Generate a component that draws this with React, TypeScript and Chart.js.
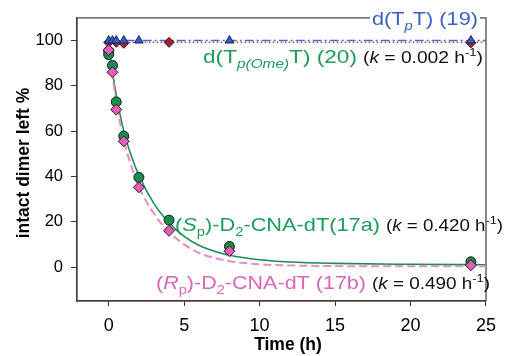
import React, { useEffect, useRef } from 'react';
import { Chart, registerables } from 'chart.js';

Chart.register(...registerables);

const FONT = '"Liberation Sans", Arial, Helvetica, sans-serif';

// ticks
const xTicks = [0, 5, 10, 15, 20, 25];
const yTicks = [0, 20, 40, 60, 80, 100];

// axis titles
const xTitle = 'Time (h)';
const yTitle = 'intact dimer left %';

// d(TpT) (19)
const tpTimes = [0, 0.25, 0.5, 1, 2, 8, 24];
const tpValues = [100, 100, 100, 100, 100, 100, 100];
const tpLineTimes = [0, 25];
const tpLineValues = [100, 100];

// d(Tp(Ome)T) (20)
const omeTimes = [0, 0.5, 1, 4, 24];
const omeValues = [99.2, 99.2, 98.8, 99.2, 99.0];
const omeLineTimes = [0, 25];
const omeLineValues = [99.3, 99.3];

// (Sp)-D2-CNA-dT (17a)
const spTimes = [0, 0, 0.25, 0.5, 1, 2, 4, 8, 24];
const spValues = [95.3, 93.8, 89, 72.9, 57.8, 39.6, 20.7, 9.1, 2.3];

// (Rp)-D2-CNA-dT (17b)
const rpTimes = [0, 0.25, 0.5, 1, 2, 4, 8, 24];
const rpValues = [95.8, 86, 69.5, 55.5, 35.2, 16, 7, 0.8];

// fitted curves
const fitTimes = [0, 0.5, 1, 1.5, 2, 3, 4, 5, 6, 7, 8, 10, 12, 15, 20, 25];
const spFit = [97, 76, 60, 49, 40.5, 28, 19.5, 13.5, 9.5, 7, 5.2, 3.2, 2.2, 1.6, 1.2, 1.0];
const rpFit = [97, 73, 56, 44.5, 35.5, 23.5, 15.5, 10, 6.2, 4, 2.6, 1.2, 0.7, 0.4, 0.3, 0.3];

const pts = (xs: number[], ys: number[]) => xs.map((x, i) => ({ x, y: ys[i] }));

type Run = { t: string; k?: 'n' | 'i' | 'sub' | 'subi' | 'sup' };

function drawRich(
  ctx: CanvasRenderingContext2D,
  runs: Run[],
  x: number,
  baseline: number,
  size: number,
  color: string,
  targetWidth?: number,
  bg?: string
) {
  const setFont = (k?: string) => {
    const small = k === 'sub' || k === 'subi' || k === 'sup';
    const s = small ? size * 0.68 : size;
    const it = k === 'i' || k === 'subi' ? 'italic ' : '';
    ctx.font = `${it}${s}px ${FONT}`;
  };
  let w = 0;
  for (const r of runs) {
    setFont(r.k);
    w += ctx.measureText(r.t).width;
  }
  let sx = targetWidth ? targetWidth / w : 1;
  sx = Math.max(0.85, Math.min(1.25, sx));
  ctx.save();
  if (bg) {
    ctx.fillStyle = bg;
    ctx.fillRect(x - 2, baseline - size, w * sx + 4, size + 6);
  }
  ctx.translate(x, baseline);
  ctx.scale(sx, 1);
  ctx.fillStyle = color;
  ctx.textBaseline = 'alphabetic';
  ctx.textAlign = 'left';
  let cx = 0;
  for (const r of runs) {
    setFont(r.k);
    const dy = r.k === 'sub' || r.k === 'subi' ? size * 0.28 : r.k === 'sup' ? -size * 0.42 : 0;
    ctx.fillText(r.t, cx, dy);
    cx += ctx.measureText(r.t).width;
  }
  ctx.restore();
}

const kRuns = (v: string): Run[] => [
  { t: '(' },
  { t: 'k', k: 'i' },
  { t: ` = ${v} h` },
  { t: '-1', k: 'sup' },
  { t: ')' },
];

const framePlugin = {
  id: 'frame',
  beforeDatasetsDraw(chart: any) {
    const { ctx, chartArea: a } = chart;
    ctx.save();
    ctx.strokeStyle = '#4a3a36';
    ctx.lineWidth = 1.2;
    ctx.strokeRect(a.left, a.top, a.right - a.left, a.bottom - a.top);
    ctx.restore();
  },
};

const annotationPlugin = {
  id: 'annot',
  afterDraw(chart: any) {
    const ctx: CanvasRenderingContext2D = chart.ctx;
    const blue = '#3d60c4';
    const green = '#1e9c5a';
    const pink = '#dc66b8';
    const black = '#111111';

    // axis titles
    ctx.save();
    ctx.fillStyle = '#000000';
    ctx.font = `bold 17.5px ${FONT}`;
    ctx.textAlign = 'center';
    ctx.textBaseline = 'alphabetic';
    ctx.fillText(xTitle, 288, 349.5);
    ctx.translate(28.5, 163);
    ctx.rotate(-Math.PI / 2);
    ctx.fillText(yTitle, 0, 0);
    ctx.restore();

    drawRich(ctx, [{ t: 'd(T' }, { t: 'p', k: 'subi' }, { t: 'T) (19)' }], 372, 25, 19, blue, 106, '#ffffff');
    drawRich(ctx, [{ t: 'd(T' }, { t: 'p(Ome)', k: 'subi' }, { t: 'T) (20)' }], 203, 63, 19, green, 154);
    drawRich(ctx, kRuns('0.002'), 363, 63, 16, black, 120);
    drawRich(
      ctx,
      [{ t: '(' }, { t: 'S', k: 'i' }, { t: 'p', k: 'sub' }, { t: ')-D' }, { t: '2', k: 'sub' }, { t: '-CNA-dT(17a)' }],
      175, 231, 19, green, 205
    );
    drawRich(ctx, kRuns('0.420'), 386, 231, 16, black, 117);
    drawRich(
      ctx,
      [{ t: '(' }, { t: 'R', k: 'i' }, { t: 'p', k: 'sub' }, { t: ')-D' }, { t: '2', k: 'sub' }, { t: '-CNA-dT (17b)' }],
      156, 289, 19, pink, 210
    );
    drawRich(ctx, kRuns('0.490'), 372, 289, 16, black, 118);
  },
};

export default function App() {
  const ref = useRef<HTMLCanvasElement | null>(null);
  useEffect(() => {
    if (!ref.current) return;
    const chart = new Chart(ref.current, {
      type: 'scatter',
      data: {
        datasets: [
          {
            data: pts(rpTimes, rpValues),
            pointStyle: 'rectRot',
            pointRadius: 5.5,
            backgroundColor: '#e060b8',
            borderColor: '#3a1028',
            borderWidth: 1,
            showLine: false,
          },
          {
            data: pts(spTimes, spValues),
            pointStyle: 'circle',
            pointRadius: 5,
            backgroundColor: '#1e8a50',
            borderColor: '#0a2616',
            borderWidth: 1,
            showLine: false,
          },
          {
            data: pts(tpTimes, tpValues),
            pointStyle: 'triangle',
            pointRadius: 5,
            backgroundColor: '#3a5cc0',
            borderColor: '#1a2660',
            borderWidth: 1,
            showLine: false,
          },
          {
            data: pts(omeTimes, omeValues),
            pointStyle: 'rectRot',
            pointRadius: 5,
            backgroundColor: '#a82424',
            borderColor: '#2a1a40',
            borderWidth: 1,
            showLine: false,
          },
          {
            data: pts(fitTimes, rpFit),
            showLine: true,
            pointRadius: 0,
            borderColor: '#e88ccc',
            borderWidth: 2,
            borderDash: [8, 4],
            cubicInterpolationMode: 'monotone',
          },
          {
            data: pts(fitTimes, spFit),
            showLine: true,
            pointRadius: 0,
            borderColor: '#1a9050',
            borderWidth: 1.6,
            cubicInterpolationMode: 'monotone',
          },
          {
            data: pts(tpLineTimes, tpLineValues),
            showLine: true,
            pointRadius: 0,
            borderColor: '#4a6cc8',
            borderWidth: 1.6,
            borderDash: [9, 3, 2, 3],
          },
          {
            data: pts(omeLineTimes, omeLineValues),
            showLine: true,
            pointRadius: 0,
            borderColor: '#d03838',
            borderWidth: 1.5,
            borderDash: [1.5, 2.5],
          },
        ] as any,
      },
      options: {
        animation: false,
        responsive: false,
        events: [],
        layout: { padding: { top: 14, right: 17, left: 0, bottom: 0 } },
        plugins: { legend: { display: false }, tooltip: { enabled: false } },
        scales: {
          x: {
            type: 'linear',
            min: -2.1,
            max: 25,
            afterBuildTicks: (s: any) => {
              s.ticks = xTicks.map((v) => ({ value: v }));
            },
            afterFit: (s: any) => {
              s.height = 55;
            },
            grid: { display: true, drawOnChartArea: false, drawTicks: true, tickLength: 5, color: '#333333' },
            border: { display: true, color: '#4a3a36', width: 1.2 },
            ticks: { font: { family: FONT, size: 18 }, color: '#000000', padding: 9, maxRotation: 0, autoSkip: false },
            title: { display: false },
          },
          y: {
            type: 'linear',
            min: -15,
            max: 110,
            afterBuildTicks: (s: any) => {
              s.ticks = yTicks.map((v) => ({ value: v }));
            },
            afterFit: (s: any) => {
              s.width = 77;
            },
            grid: { display: true, drawOnChartArea: false, drawTicks: true, tickLength: 6, color: '#333333' },
            border: { display: true, color: '#4a3a36', width: 1.2 },
            ticks: { font: { family: FONT, size: 16.5 }, color: '#000000', padding: 8, autoSkip: false },
            title: { display: false },
          },
        },
      } as any,
      plugins: [framePlugin, annotationPlugin],
    });
    return () => chart.destroy();
  }, []);
  return (
    <div style={{ position: 'absolute', left: 0, top: 0, width: 505, height: 356, background: '#ffffff' }}>
      <canvas ref={ref} width={505} height={356} style={{ display: 'block' }} />
    </div>
  );
}
